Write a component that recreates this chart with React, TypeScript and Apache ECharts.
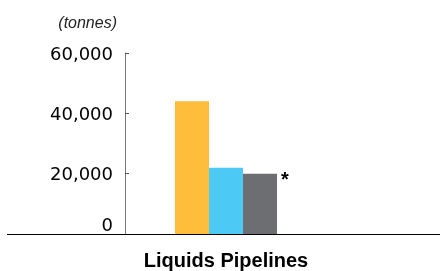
import React, { useEffect, useRef } from "react";
import * as echarts from "echarts";

const categories = ["Liquids Pipelines"];
const seriesA = [44000];
const seriesB = [22000];
const seriesC = [20000];
const yTicks = [0, 20000, 40000, 60000];
const unitLabel = "(tonnes)";
const note = "*";

export default function App() {
  const ref = useRef<HTMLDivElement>(null);
  useEffect(() => {
    if (!ref.current) return;
    const chart = echarts.init(ref.current, null, { renderer: "svg" });
    const fmt = (v: number) => v.toLocaleString("en-US");
    chart.setOption({
      animation: false,
      grid: { left: 125, right: 113, top: 53, height: 181, containLabel: false },
      xAxis: {
        type: "category",
        data: categories,
        axisLine: { show: false },
        axisTick: { show: false },
        axisLabel: {
          margin: 16,
          fontFamily: "Liberation Sans",
          fontWeight: "bold",
          fontSize: 20,
          color: "#000",
        },
      },
      yAxis: {
        type: "value",
        min: yTicks[0],
        max: yTicks[yTicks.length - 1],
        interval: yTicks[1] - yTicks[0],
        name: unitLabel,
        nameLocation: "end",
        nameGap: 31,
        nameTextStyle: {
          align: "right",
          verticalAlign: "middle",
          fontStyle: "italic",
          fontFamily: "Liberation Sans",
          fontSize: 16,
          color: "#222",
          padding: [0, 8, 0, 0],
        },
        splitLine: { show: false },
        axisLine: { show: true, lineStyle: { color: "#777", width: 1 } },
        axisTick: { show: true, inside: true, length: 4, lineStyle: { color: "#555" } },
        axisLabel: {
          margin: 12,
          fontFamily: "DejaVu Sans",
          fontSize: 18,
          color: "#000",
          formatter: (v: number) => (v === 0 ? "{z|0}" : "{n|" + fmt(v) + "}"),
          rich: {
            z: { fontFamily: "DejaVu Sans", fontSize: 18, color: "#000", padding: [0, 0, 20, 0] },
            n: { fontFamily: "DejaVu Sans", fontSize: 18, color: "#000" },
          },
        },
      },
      series: [
        { type: "bar", data: seriesA, barWidth: 34, barGap: "0%", itemStyle: { color: "#FEBE3C" } },
        { type: "bar", data: seriesB, barWidth: 34, barGap: "0%", itemStyle: { color: "#4DC9F5" } },
        {
          type: "bar",
          data: seriesC,
          barWidth: 34,
          barGap: "0%",
          itemStyle: { color: "#6D6E71" },
          label: {
            show: true,
            formatter: note,
            position: [38, -5],
            fontFamily: "Liberation Sans",
            fontWeight: "bold",
            fontSize: 20,
            color: "#000",
          },
        },
      ],
      graphic: [
        {
          type: "line",
          shape: { x1: 7, y1: 234.5, x2: 440, y2: 234.5 },
          style: { stroke: "#000", lineWidth: 1 },
          z: 10,
        },
      ],
    });
    return () => chart.dispose();
  }, []);
  return (
    <div
      ref={ref}
      style={{ position: "fixed", left: 0, top: 0, width: 440, height: 271 }}
    />
  );
}
